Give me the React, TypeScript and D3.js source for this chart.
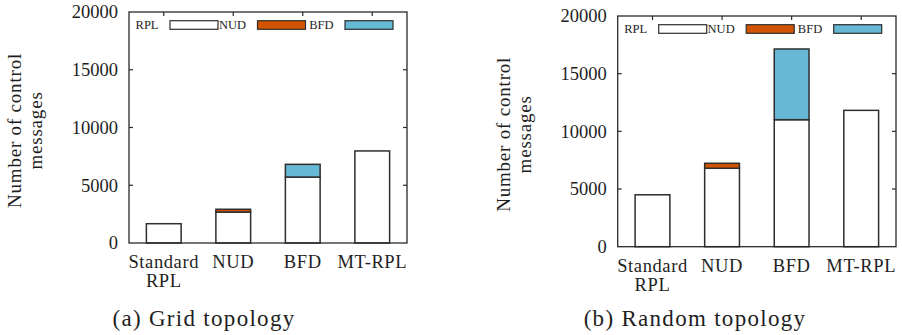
import React from "react";
import * as d3 from "d3";

const categories = ["Standard RPL", "NUD", "BFD", "MT-RPL"];
const seriesNames = ["RPL", "NUD", "BFD"];
const gridRPL = [1670, 2680, 5710, 7970];
const gridNUD = [0, 240, 0, 0];
const gridBFD = [0, 0, 1100, 0];
const randomRPL = [4500, 6800, 11010, 11820];
const randomNUD = [0, 430, 0, 0];
const randomBFD = [0, 0, 6130, 0];
const yTicks = [0, 5000, 10000, 15000, 20000];
const yMax = 20000;
const captions = ["(a) Grid topology", "(b) Random topology"];
const yLabelLines = ["Number of control", "messages"];

const colors = ["#ffffff", "#d35400", "#66b8d4"];
const FONT = "Liberation Serif, DejaVu Serif, Times, serif";
const AX = "#2a2a2a";

type PanelProps = {
  x0: number; x1: number; top: number; bottom: number;
  rpl: number[]; nud: number[]; bfd: number[]; caption: string; captionX: number;
};

function Panel({ x0, x1, top, bottom, rpl, nud, bfd, caption, captionX }: PanelProps) {
  const x = d3.scaleBand<string>().domain(categories).range([x0, x1]).paddingInner(0.5).paddingOuter(0.25);
  const y = d3.scaleLinear().domain([0, yMax]).range([bottom, top]);
  const rows = categories.map((c, i) => ({ cat: c, RPL: rpl[i], NUD: nud[i], BFD: bfd[i] }));
  const stack = d3.stack<any>().keys(seriesNames)(rows);
  const legendStartBox = x0 + 41;
  const labelCY = (top + bottom) / 2 + 3;
  const txt = { fontFamily: FONT, fill: "#1e1e1e" } as React.CSSProperties;
  return (
    <g>
      {stack.map((layer, si) =>
        layer.map((d, i) => {
          const h = y(d[0]) - y(d[1]);
          if (h <= 0.01) return null;
          return (
            <rect key={`${si}-${i}`} x={x(categories[i])!} y={y(d[1])} width={x.bandwidth()} height={h}
              fill={colors[si]} stroke="#2e2e2e" strokeWidth={1.5} />
          );
        })
      )}
      <rect x={x0} y={top} width={x1 - x0} height={bottom - top} fill="none" stroke={AX} strokeWidth={1.3} />
      {yTicks.map((t) => (
        <g key={t}>
          {t > 0 && t < yMax && <line x1={x1} x2={x1 - 4} y1={y(t)} y2={y(t)} stroke={AX} strokeWidth={1.2} />}
          {t > 0 && t < yMax && <line x1={x0} x2={x0 + 4} y1={y(t)} y2={y(t)} stroke={AX} strokeWidth={1.2} />}
          <text x={x0 - 11} y={y(t)} dy="0.34em" textAnchor="end" style={{ ...txt, fontSize: 18.5 }}>
            {t}
          </text>
        </g>
      ))}
      {categories.map((c) => (
        <line key={c} x1={x(c)! + x.bandwidth() / 2} x2={x(c)! + x.bandwidth() / 2} y1={top} y2={top + 4} stroke={AX} strokeWidth={1.2} />
      ))}
      {categories.map((c) => {
        const parts = c === "Standard RPL" ? ["Standard", "RPL"] : [c];
        const cx = x(c)! + x.bandwidth() / 2;
        return (
          <text key={c} x={cx} y={bottom + 25} textAnchor="middle" style={{ ...txt, fontSize: 18.5, letterSpacing: 0.6 }}>
            {parts.map((p, k) => (
              <tspan key={k} x={cx} dy={k === 0 ? 0 : 19}>{p}</tspan>
            ))}
          </text>
        );
      })}
      {seriesNames.map((s, i) => {
        const bx = legendStartBox + i * 87.5;
        const cy = top + 13;
        return (
          <g key={s}>
            <text x={bx - 11.5} y={cy} dy="0.35em" textAnchor="end" style={{ ...txt, fontSize: 12.5 }}>{s}</text>
            <rect x={bx} y={cy - 4.3} width={48} height={8.6} fill={colors[i]} stroke="#2e2e2e" strokeWidth={1.2} />
          </g>
        );
      })}
      {yLabelLines.map((l, k) => {
        const bx = x0 - 108 + k * 21;
        return (
          <text key={k} transform={`translate(${bx},${labelCY}) rotate(-90)`} textAnchor="middle"
            style={{ ...txt, fontSize: 19, letterSpacing: 0.8 }}>{l}</text>
        );
      })}
      <text x={captionX} y={326} textAnchor="middle" style={{ ...txt, fontSize: 23, letterSpacing: 1.3 }}>
        {caption}
      </text>
    </g>
  );
}

export default function App() {
  return (
    <div style={{ position: "absolute", left: 0, top: 0 }}>
      <svg width={902} height={335} style={{ display: "block", background: "#fff" }}>
        <Panel x0={129} x1={407} top={12} bottom={243} rpl={gridRPL} nud={gridNUD} bfd={gridBFD} caption={captions[0]} captionX={204} />
        <Panel x0={617.7} x1={896} top={16} bottom={246.7} rpl={randomRPL} nud={randomNUD} bfd={randomBFD} caption={captions[1]} captionX={695} />
      </svg>
    </div>
  );
}
